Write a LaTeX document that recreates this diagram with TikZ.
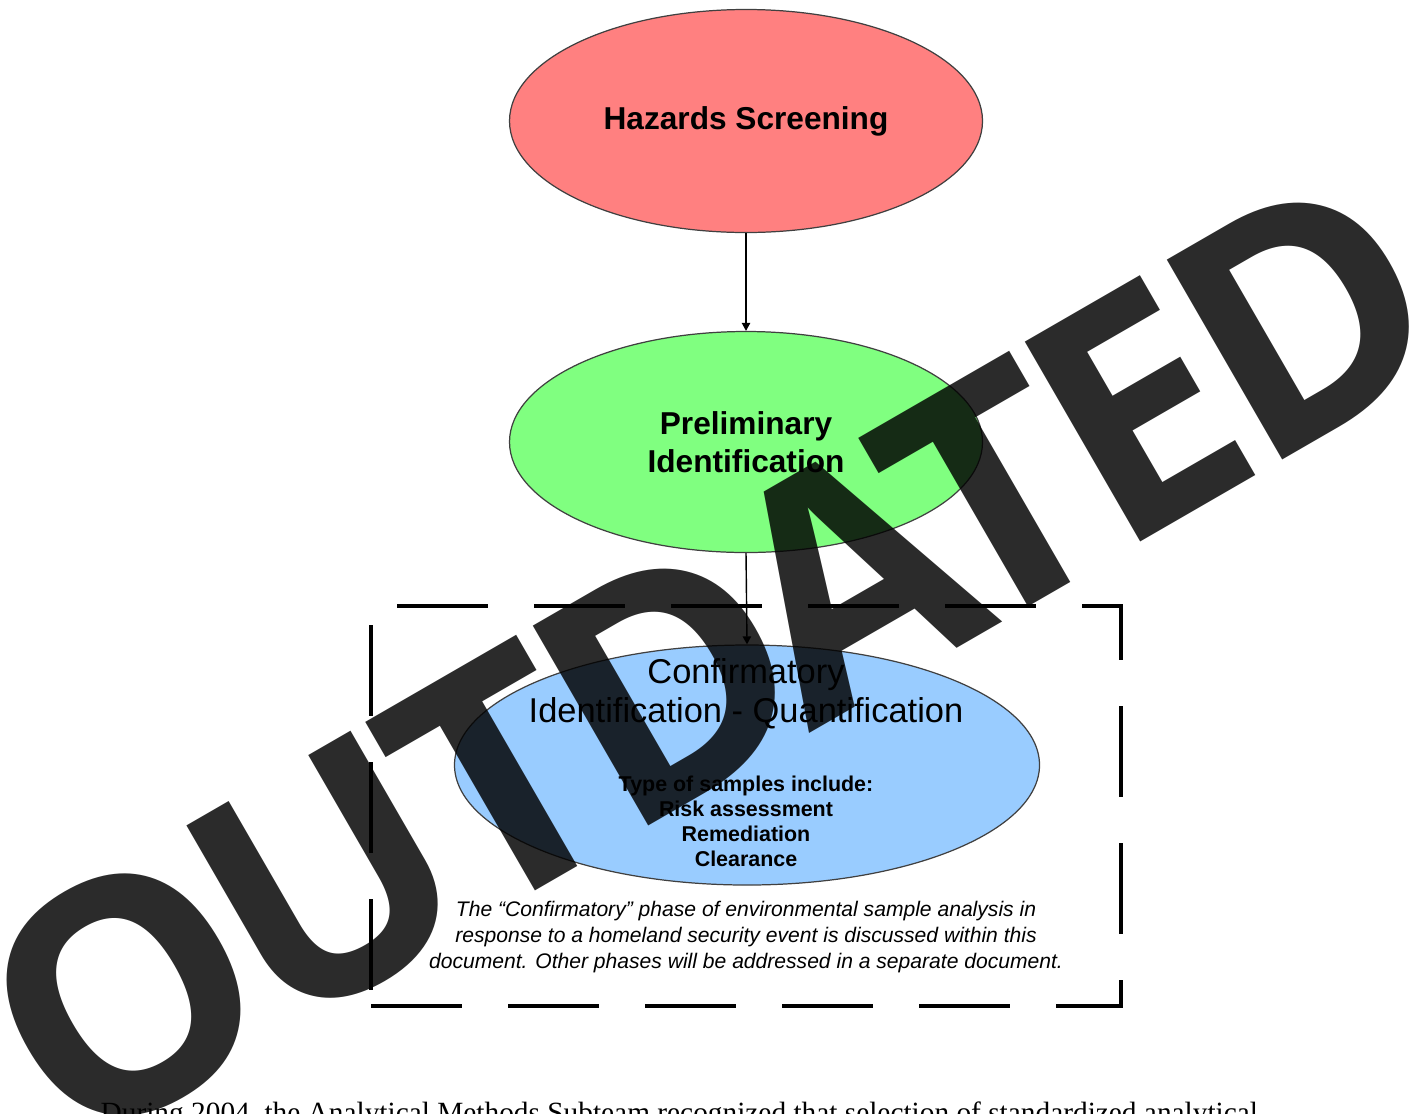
\documentclass[tikz,border=0pt]{standalone}
\usepackage{fontspec}
\setmainfont{Liberation Serif}
\setsansfont{Liberation Sans}
\newfontfamily\stampfont[LetterSpace=-5.3]{Open Sans}
\usetikzlibrary{shapes.geometric, arrows.meta, positioning}
\definecolor{hazardred}{HTML}{FF8080}
\definecolor{prelimgreen}{HTML}{80FF80}
\definecolor{confirmblue}{HTML}{99CCFF}

\begin{document}
\begin{tikzpicture}[
    x=0.1mm, y=-0.1mm,
    every node/.style={font=\sffamily},
    stage/.style={ellipse, draw=black!75, line width=0.35pt, inner sep=0pt, align=center},
    arrow/.style={-{Triangle[length=2.3pt, width=2.4pt]}, line width=0.4pt},
    boxline/.style={line width=0.4mm, line cap=rect, dash pattern=on 8.7mm off 5mm},
    note/.style={font=\sffamily\itshape\fontsize{6}{7.4}\selectfont, align=center},
    stamp/.style={font=\stampfont\bfseries\fontsize{92}{92}\selectfont, text=black, text opacity=0.83, rotate=30, inner sep=0pt}
]
\useasboundingbox (0,0) rectangle (1423,1113);
\clip (0,0) rectangle (1423,1113);

% Phases
\node[stage, fill=hazardred, minimum width=47.3mm, minimum height=22.3mm,
      font=\sffamily\bfseries\fontsize{9}{10.8}\selectfont] (hazard) at (746,121) {Hazards Screening};
\node[stage, fill=prelimgreen, minimum width=47.3mm, minimum height=22.1mm,
      font=\sffamily\bfseries\fontsize{9}{10.8}\selectfont] (prelim) at (746,442) {Preliminary\\Identification};
\node[stage, fill=confirmblue, minimum width=58.5mm, minimum height=24mm] (confirm) at (747,765) {};

% Texts inside the blue phase
\node[font=\sffamily\fontsize{9.8}{11.1}\selectfont, align=center] (conftitle) at (746,694) {Confirmatory\\Identification - Quantification};
\node[font=\sffamily\bfseries\fontsize{6.1}{7.1}\selectfont, align=center] (samples) at (746,821) {Type of samples include:\\Risk assessment\\Remediation\\Clearance};

% Note
\node[note] (scope) at (746,937) {The ``Confirmatory'' phase of environmental sample analysis in\\response to a homeland security event is discussed within this\\document. Other phases will be addressed in a separate document.};

% Arrows
\draw[arrow] (hazard.south) -- (prelim.north);
\draw[arrow] (prelim.south) -- (confirm.north);

% Dashed frame
\coordinate (nw) at (371,606);
\coordinate (ne) at (1121,606);
\coordinate (se) at (1121,1006);
\coordinate (sw) at (371,1006);
\draw[boxline, dash phase=10.9mm] (nw) -- (ne);
\draw[boxline, dash phase=3.5mm] (ne) -- (se);
\draw[boxline, dash phase=13.5mm] (sw) -- (se);
\draw[boxline, dash phase=11.9mm] (sw) -- (nw);

% Body text below
\node[font=\rmfamily\fontsize{8.35}{10}\selectfont, anchor=base west, inner sep=0pt] (para) at (100,1122)
    {During 2004, the Analytical Methods Subteam recognized that selection of standardized analytical};

% Watermark
\node[stamp] (outdated) at (710,657) {OUTDATED};

\end{tikzpicture}
\end{document}
